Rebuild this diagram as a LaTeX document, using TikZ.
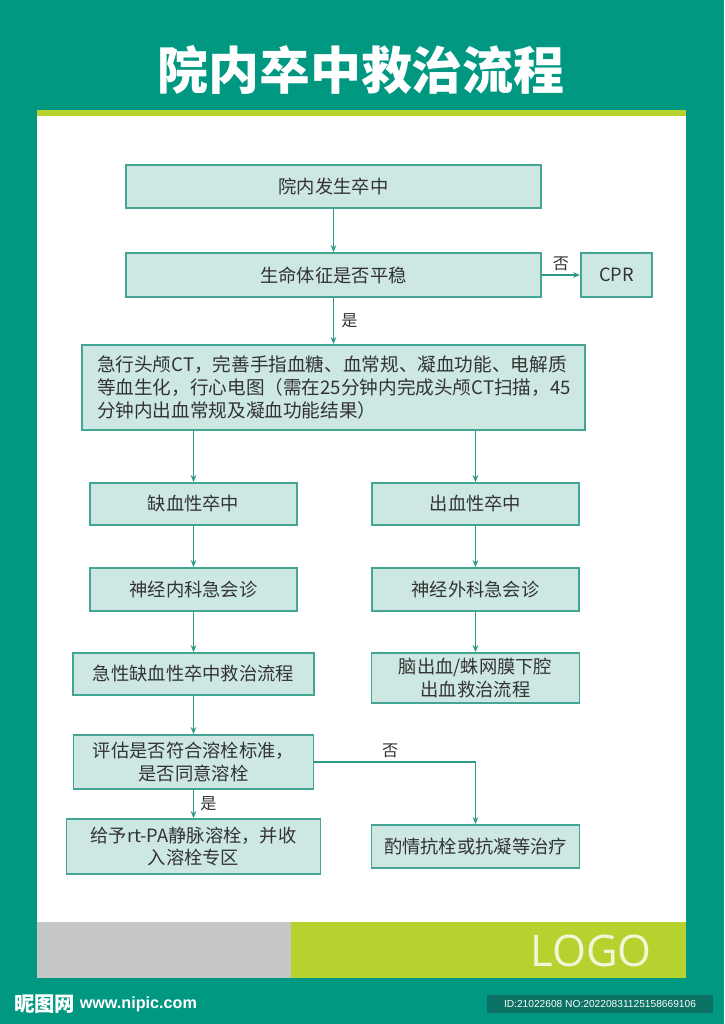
\documentclass[tikz,border=0pt]{standalone}
\usepackage{fontspec}
\newfontfamily\cjk{Noto Sans CJK SC}
\newfontfamily\logofont{Open Sans}
\newfontfamily\wmfont{Liberation Sans}
\usetikzlibrary{positioning, arrows.meta}

\definecolor{bgteal}{HTML}{019882}
\definecolor{limebar}{HTML}{B5D22E}
\definecolor{greyband}{HTML}{C6C8C6}
\definecolor{boxfill}{HTML}{CDE7E3}
\definecolor{boxline}{HTML}{45A595}
\definecolor{arrowc}{HTML}{2A9A87}
\definecolor{txt}{HTML}{333333}
\definecolor{logotxt}{HTML}{F2F6D6}
\definecolor{idbox}{HTML}{0B7265}

\begin{document}
\begin{tikzpicture}[x=0.05cm, y=-0.05cm, >={Stealth[length=10pt, width=8pt]},
    box/.style={draw=boxline, fill=boxfill, line width=2.6pt, inner sep=0pt,
        align=center, text=txt, font=\cjk\fontsize{26}{32}\selectfont},
    line/.style={->, arrowc, line width=2.6pt},
    lbl/.style={text=txt, font=\cjk\fontsize{23}{23}\selectfont}]
    % 背景与版面
    \useasboundingbox (0,0) rectangle (724,1024);
    \fill[bgteal] (0,0) rectangle (724,1024);
    \fill[limebar] (37,110) rectangle (686,116);
    \fill[white] (37,116) rectangle (686,922);
    \fill[greyband] (37,922) rectangle (291,978);
    \fill[limebar] (291,922) rectangle (686,978);

    % 标题
    \node[text=white, font=\cjk\bfseries\fontsize{72.5}{72.5}\selectfont] (title) at (361,70) {院内卒中救治流程};

    % 流程框
    \node[box, minimum width=20.75cm, minimum height=2.15cm] (fasheng) at (333.5,186.5) {院内发生卒中};
    \node[box, minimum width=20.75cm, minimum height=2.2cm] (tizheng) at (333.5,275) {生命体征是否平稳};
    \node[box, minimum width=3.55cm, minimum height=2.2cm] (cpr) at (616.5,275) {CPR};
    \node[box, align=left, text width=23.65cm, inner xsep=0.75cm, minimum height=4.25cm,
        font=\cjk\fontsize{26.5}{33}\selectfont] (jiancha) at (333.5,387.5)
        {急行头颅CT，完善手指血糖、血常规、凝血功能、电解质\\
         等血生化，行心电图（需在25分钟内完成头颅CT扫描，45\\
         分钟内出血常规及凝血功能结果）};

    \node[box, minimum width=10.35cm, minimum height=2.1cm] (quexue) at (193.5,504) {缺血性卒中};
    \node[box, minimum width=10.35cm, minimum height=2.1cm] (chuxue) at (475.5,504) {出血性卒中};
    \node[box, minimum width=10.35cm, minimum height=2.15cm] (neike) at (193.5,589.5) {神经内科急会诊};
    \node[box, minimum width=10.35cm, minimum height=2.15cm] (waike) at (475.5,589.5) {神经外科急会诊};
    \node[box, minimum width=12.05cm, minimum height=2.1cm] (quexueliucheng) at (193.5,674) {急性缺血性卒中救治流程};
    \node[box, minimum width=10.4cm, minimum height=2.5cm] (chuxueliucheng) at (475.5,678) {脑出血/蛛网膜下腔\\出血救治流程};
    \node[box, minimum width=12cm, minimum height=2.7cm] (pinggu) at (193.5,762) {评估是否符合溶栓标准，\\是否同意溶栓};
    \node[box, minimum width=12.7cm, minimum height=2.75cm] (rongshuan) at (193.5,846.5) {给予rt-PA静脉溶栓，并收\\入溶栓专区};
    \node[box, minimum width=10.4cm, minimum height=2.15cm] (kangshuan) at (475.5,846.5) {酌情抗栓或抗凝等治疗};

    % 连线
    \draw[line] (fasheng) -- (tizheng);
    \draw[line] (tizheng) -- node[lbl, right=0.23cm] {是} (jiancha);
    \draw[line] (tizheng) -- node[lbl, above=0.05cm] {否} (cpr);
    \draw[line] (jiancha.south -| quexue) -- (quexue);
    \draw[line] (jiancha.south -| chuxue) -- (chuxue);
    \draw[line] (quexue) -- (neike);
    \draw[line] (chuxue) -- (waike);
    \draw[line] (neike) -- (quexueliucheng);
    \draw[line] (waike) -- (chuxueliucheng);
    \draw[line] (quexueliucheng) -- (pinggu);
    \draw[line] (pinggu) -- node[lbl, right=0.18cm] {是} (rongshuan);
    \draw[line] (pinggu.east) -| node[lbl, above=0.05cm, pos=0.235] {否} (kangshuan.north);

    % 底部标志与水印
    \node[text=logotxt, font=\logofont\fontsize{62}{62}\selectfont] (logo) at (591,951) {LOGO};
    \node[anchor=west, text=white, font=\cjk\bfseries\fontsize{29}{29}\selectfont, inner sep=0pt] (nipic) at (14,1004) {昵图网};
    \node[right=6pt of nipic, text=white, font=\wmfont\bfseries\fontsize{23}{23}\selectfont, inner sep=0pt] (nipicurl) {www.nipic.com};
    \node[fill=idbox, text=white, font=\wmfont\fontsize{14.5}{14.5}\selectfont, minimum width=11.3cm, minimum height=0.9cm, inner sep=0pt] (idnum) at (600,1004) {ID:21022608 NO:20220831125158669106};
\end{tikzpicture}
\end{document}
